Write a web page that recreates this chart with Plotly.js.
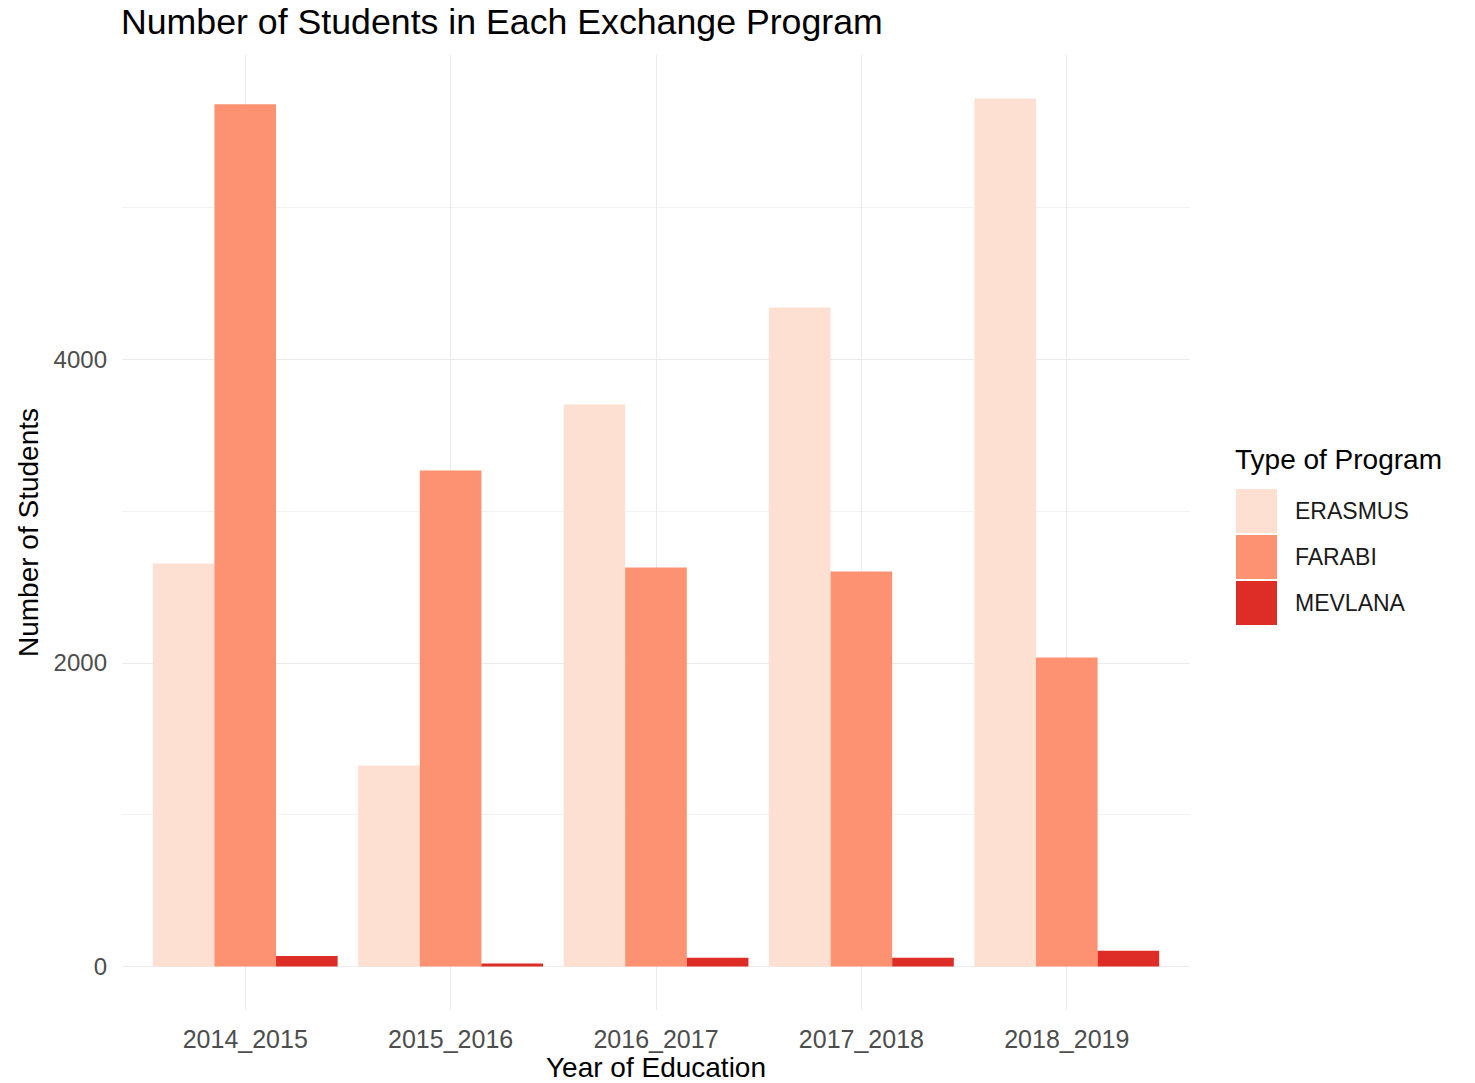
<!DOCTYPE html>
<html>
<head>
<meta charset="utf-8">
<script src="https://cdn.plot.ly/plotly-3.0.1.min.js"></script>
<style>html,body{margin:0;padding:0;background:#fff;}#chart{width:1475px;height:1083px;}</style>
</head>
<body>
<div id="chart"></div>
<script>
const years = ["2014_2015", "2015_2016", "2016_2017", "2017_2018", "2018_2019"];
const programs = ["ERASMUS", "FARABI", "MEVLANA"];
const erasmus = [2656, 1325, 3704, 4343, 5720];
const farabi = [5681, 3269, 2630, 2603, 2036];
const mevlana = [70, 20, 58, 58, 105];
const colors = ["#FEE0D2", "#FC9272", "#DE2D26"];
const yTicks = [0, 2000, 4000];

const seriesValues = [erasmus, farabi, mevlana];
const font = "Liberation Sans, Arial, sans-serif";

const traces = programs.map((p, i) => ({
  type: "bar",
  name: p,
  x: years,
  y: seriesValues[i],
  marker: {color: colors[i], line: {width: 0}},
  showlegend: false,
  hoverinfo: "x+y+name"
}));

// Custom legend (ggplot-style large keys)
const shapes = [];
const annotations = [];
const legX0 = 1236, legW = 41, legY0 = 489, legH = 44;
annotations.push({
  xref: "paper", yref: "paper",
  x: (1233 - 122) / 1068, y: 1 - (459 - 55) / 955,
  xanchor: "left", yanchor: "middle",
  text: "Type of Program", showarrow: false,
  font: {family: font, size: 28, color: "#000"}
});
programs.forEach((p, i) => {
  const top = legY0 + i * (legH + 2);
  shapes.push({
    type: "rect", xref: "paper", yref: "paper",
    x0: (legX0 - 122) / 1068, x1: (legX0 + legW - 122) / 1068,
    y0: 1 - (top - 55) / 955, y1: 1 - (top + legH - 55) / 955,
    fillcolor: colors[i], line: {width: 0}
  });
  annotations.push({
    xref: "paper", yref: "paper",
    x: (1293 - 122) / 1068, y: 1 - (top + legH / 2 - 55) / 955,
    xanchor: "left", yanchor: "middle",
    text: p, showarrow: false,
    font: {family: font, size: 23, color: "#1a1a1a"}
  });
});

const layout = {
  width: 1475, height: 1083,
  margin: {l: 122, r: 285, t: 55, b: 73, pad: 0},
  paper_bgcolor: "#fff", plot_bgcolor: "#fff",
  barmode: "group", bargap: 0.1, bargroupgap: 0,
  title: {
    text: "Number of Students in Each Exchange Program",
    x: 121 / 1475, xanchor: "left", xref: "container",
    y: 1 - 22 / 1083, yanchor: "middle", yref: "container",
    font: {family: font, size: 35.7, color: "#000"}
  },
  xaxis: {
    type: "category",
    range: [-0.6, 4.6],
    showgrid: true, gridcolor: "#EBEBEB", gridwidth: 1.4,
    zeroline: false, showline: false, ticks: "",
    tickfont: {family: font, size: 25, color: "#4D4D4D"},
    ticklabelstandoff: 12,
    title: {text: "Year of Education", font: {family: font, size: 28, color: "#000"}, standoff: 3},
    automargin: false
  },
  yaxis: {
    range: [-286, 6006],
    tickvals: yTicks,
    ticktext: yTicks.map(String),
    showgrid: true, gridcolor: "#EBEBEB", gridwidth: 1.4,
    minor: {dtick: 1000, tick0: 0, showgrid: true, gridcolor: "#F2F2F2", gridwidth: 0.9},
    zeroline: false, showline: false, ticks: "",
    tickfont: {family: font, size: 24, color: "#4D4D4D"},
    ticklabelstandoff: 14,
    title: {text: "Number of Students", font: {family: font, size: 28, color: "#000"}, standoff: 6},
    automargin: false
  },
  shapes: shapes,
  annotations: annotations,
  showlegend: false
};

Plotly.newPlot("chart", traces, layout, {displayModeBar: false, staticPlot: false});
</script>
</body>
</html>
